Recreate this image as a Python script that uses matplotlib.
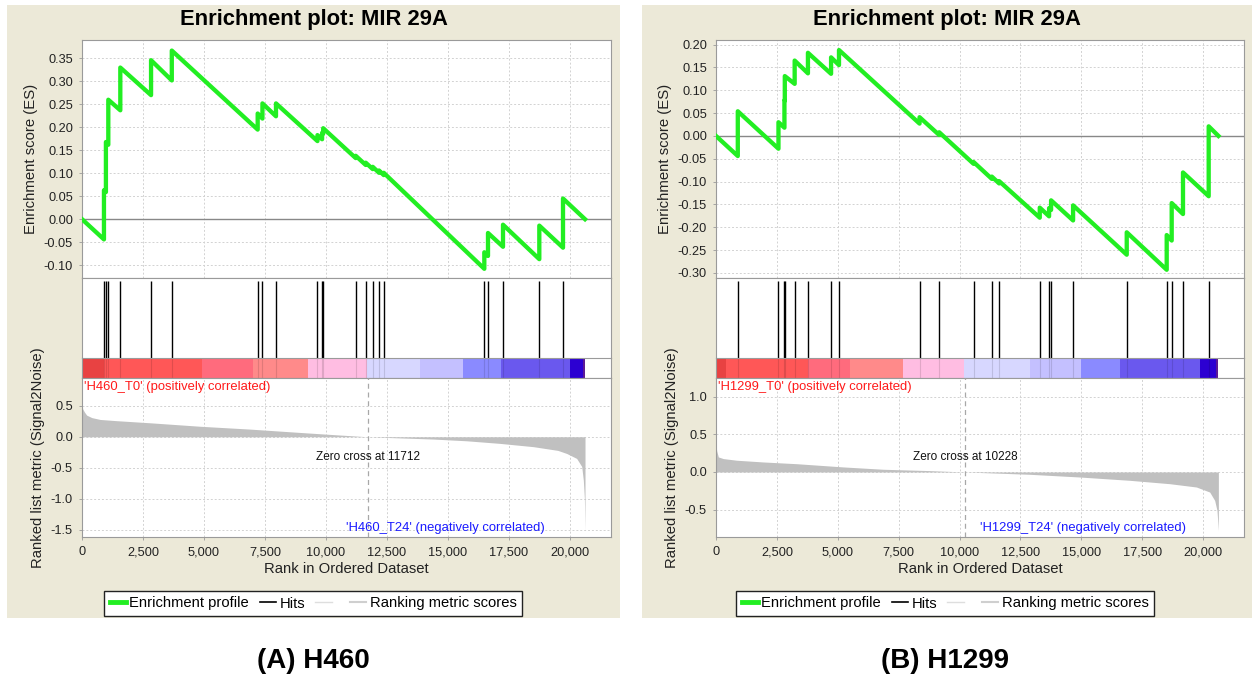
import matplotlib.pyplot as plt
import matplotlib.patches as mpatches
from matplotlib.lines import Line2D
from matplotlib.ticker import FuncFormatter, MultipleLocator

plt.rcParams["font.family"] = ["Liberation Sans", "DejaVu Sans"]
plt.rcParams["axes.unicode_minus"] = False

# ── Data ──────────────────────────────────────────────────────────────────────
TITLE = "Enrichment plot: MIR 29A"

# H460
es_rank_460 = [0, 900, 900, 980, 980, 1078, 1078, 1570, 1570, 2830, 2830, 3680, 3680,
               7200, 7200, 7395, 7395, 7950, 7950, 9650, 9650, 9840, 9840, 9885, 9885,
               11217, 11217, 11627, 11627, 11914, 11914, 12172, 12172, 12365, 12365,
               16488, 16488, 16639, 16639, 17254, 17254, 18742, 18742, 19713, 19713, 20615]
es_value_460 = [0.0, -0.044, 0.063, 0.059, 0.168, 0.162, 0.260, 0.237, 0.330, 0.270, 0.346,
                0.302, 0.367, 0.195, 0.230, 0.219, 0.252, 0.224, 0.252, 0.170, 0.183,
                0.174, 0.188, 0.186, 0.198, 0.133, 0.138, 0.118, 0.123, 0.109, 0.114,
                0.101, 0.106, 0.096, 0.101, -0.108, -0.072, -0.080, -0.030, -0.060,
                -0.012, -0.087, -0.014, -0.062, 0.045, 0.0]
hits_460 = [900, 980, 1078, 1570, 2830, 3680, 7200, 7395, 7950, 9650, 9840, 9885, 11217,
            11627, 11914, 12172, 12365, 16488, 16639, 17254, 18742, 19713]
metric_rank_460 = [0, 30, 100, 190, 400, 740, 1420, 2790, 4836, 6885, 8934, 10300, 11712,
                   14400, 15766, 17130, 18500, 19500, 19865, 20273, 20480, 20546, 20590, 20615]
metric_value_460 = [0.51, 0.45, 0.40, 0.35, 0.31, 0.28, 0.26, 0.226, 0.17, 0.124, 0.07,
                    0.035, 0.0, -0.037, -0.065, -0.107, -0.16, -0.22, -0.27, -0.35, -0.48,
                    -0.70, -1.0, -1.52]
bar_edges_460 = [0, 900, 4905, 7020, 9250, 11670, 13850, 15630, 17170, 20000, 20545, 20615]
zero_cross_460 = 11712

# H1299
es_rank_1299 = [0, 895, 895, 2565, 2565, 2810, 2810, 2825, 2825, 3230, 3230, 3775, 3775,
                4725, 4725, 5050, 5050, 8358, 8358, 9165, 9165, 10574, 10574, 11325, 11325,
                11627, 11627, 13294, 13294, 13677, 13677, 13759, 13759, 14662, 14662,
                16865, 16865, 18506, 18506, 18711, 18711, 19175, 19175, 20230, 20230, 20630]
es_value_1299 = [0.0, -0.044, 0.054, -0.028, 0.030, 0.018, 0.078, 0.077, 0.131, 0.114,
                 0.165, 0.137, 0.182, 0.136, 0.172, 0.155, 0.188, 0.027, 0.041, 0.002,
                 0.008, -0.061, -0.057, -0.094, -0.089, -0.104, -0.099, -0.179, -0.157,
                 -0.176, -0.158, -0.162, -0.141, -0.185, -0.152, -0.260, -0.211, -0.293,
                 -0.217, -0.229, -0.147, -0.171, -0.080, -0.132, 0.021, 0.0]
hits_1299 = [895, 2565, 2810, 2825, 3230, 3775, 4725, 5050, 8358, 9165, 10574, 11325, 11627,
             13294, 13677, 13759, 14662, 16865, 18506, 18711, 19175, 20230]
metric_rank_1299 = [0, 30, 96, 300, 850, 1944, 3310, 5225, 6866, 8781, 10228, 12885, 14937,
                    16988, 18630, 19725, 20271, 20476, 20570, 20628]
metric_value_1299 = [0.356, 0.28, 0.2, 0.178, 0.156, 0.133, 0.11, 0.067, 0.036, 0.018, 0.0,
                     -0.031, -0.067, -0.111, -0.156, -0.2, -0.267, -0.378, -0.51, -0.78]
bar_edges_1299 = [0, 400, 3790, 5500, 7670, 10200, 12885, 15000, 16580, 19890, 20520, 20630]
zero_cross_1299 = 10228

BAR_COLORS = ["#e84242", "#ff5757", "#ff6b7d", "#ff8a8a", "#ffbde2", "#d7d7ff",
              "#c4c0ff", "#8a8aff", "#6a58ee", "#2c00d2", "#5c1a96"]

PANELS = [
    dict(es_r=es_rank_460, es_v=es_value_460, hits=hits_460,
         m_r=metric_rank_460, m_v=metric_value_460, bar=bar_edges_460,
         zc=zero_cross_460, pos="'H460_T0' (positively correlated)",
         neg="'H460_T24' (negatively correlated)", caption="(A) H460",
         es_ylim=(-0.128, 0.39), es_step=0.05, m_ylim=(-1.62, 0.95),
         m_ticks=[0.5, 0.0, -0.5, -1.0, -1.5],
         x0=82, x1=611, bg=(7, 620), legend_cx=313),
    dict(es_r=es_rank_1299, es_v=es_value_1299, hits=hits_1299,
         m_r=metric_rank_1299, m_v=metric_value_1299, bar=bar_edges_1299,
         zc=zero_cross_1299, pos="'H1299_T0' (positively correlated)",
         neg="'H1299_T24' (negatively correlated)", caption="(B) H1299",
         es_ylim=(-0.311, 0.21), es_step=0.05, m_ylim=(-0.865, 1.25),
         m_ticks=[1.0, 0.5, 0.0, -0.5],
         x0=716, x1=1244, bg=(642, 1252), legend_cx=945),
]

# ── Layout (pixels of a 1252 x 679 canvas) ────────────────────────────────────
W, H = 1252, 679
XMAX = 21680
GREEN = "#22ee22"
BEIGE = "#ece9d8"
SPINE = "#9a9a9a"
GRID = dict(color="#d2d2d2", linestyle=(0, (2, 2)), linewidth=0.7)


def box(x0, y0, x1, y1):
    return [x0 / W, 1 - y1 / H, (x1 - x0) / W, (y1 - y0) / H]


def style(ax):
    for s in ax.spines.values():
        s.set_color(SPINE)
        s.set_linewidth(0.8)
    ax.tick_params(colors="#333333", labelsize=9.2, length=2.5, width=0.6,
                   pad=4, labelcolor="#222222")
    ax.tick_params(axis="both", color=SPINE)


comma = FuncFormatter(lambda v, p: f"{int(v):,}")

fig = plt.figure(figsize=(W / 100, H / 100), dpi=100)
fig.patch.set_facecolor("white")

for p in PANELS:
    bx0, bx1 = p["bg"]
    fig.patches.append(mpatches.Rectangle((bx0 / W, 1 - 618 / H), (bx1 - bx0) / W,
                                          613 / H, transform=fig.transFigure,
                                          facecolor=BEIGE, edgecolor="none", zorder=-5))
    cx = (bx0 + bx1) / 2 / W
    fig.text(cx, 1 - 19 / H, TITLE, ha="center", va="center", fontsize=15.8,
             fontweight="bold")
    fig.text(p["legend_cx"] / W, 1 - 661 / H, p["caption"], ha="center", va="center",
             fontsize=20, fontweight="bold")

    x0, x1 = p["x0"], p["x1"]

    # Enrichment score
    ax = fig.add_axes(box(x0, 40, x1, 278))
    style(ax)
    ax.set_axisbelow(True)
    ax.grid(True, **GRID)
    ax.axhline(0, color="#888888", lw=1.0, zorder=1)
    ax.plot(p["es_r"], p["es_v"], color=GREEN, lw=3.1, solid_joinstyle="round", zorder=3)
    ax.set_xlim(0, XMAX)
    ax.set_ylim(*p["es_ylim"])
    ax.xaxis.set_major_locator(MultipleLocator(2500))
    ax.yaxis.set_major_locator(MultipleLocator(p["es_step"]))
    ax.yaxis.set_major_formatter(FuncFormatter(lambda v, q: f"{v:.2f}"))
    ax.tick_params(axis="x", labelbottom=False, length=0)
    ax.set_ylabel("Enrichment score (ES)", fontsize=10.7, color="#222222")

    # Hits
    axh = fig.add_axes(box(x0, 278, x1, 358))
    style(axh)
    axh.vlines(p["hits"], 0, 0.96, color="black", lw=1.0)
    axh.set_xlim(0, XMAX)
    axh.set_ylim(0, 1)
    axh.set_xticks([])
    axh.set_yticks([])
    axh.spines["bottom"].set_visible(False)

    # Colour bar of the ranked list
    axb = fig.add_axes(box(x0, 358, x1, 378))
    style(axb)
    edges = p["bar"]
    for i, c in enumerate(BAR_COLORS):
        axb.axvspan(edges[i], edges[i + 1], color=c, lw=0)
    axb.vlines(p["hits"], 0, 1, color="black", lw=0.8, alpha=0.12)
    axb.set_xlim(0, XMAX)
    axb.set_ylim(0, 1)
    axb.set_xticks([])
    axb.set_yticks([])

    # Ranked list metric
    axm = fig.add_axes(box(x0, 378, x1, 537))
    style(axm)
    axm.set_axisbelow(True)
    axm.grid(True, **GRID)
    axm.fill_between(p["m_r"], 0, p["m_v"], color="#c0c0c0", lw=0, zorder=2)
    axm.axvline(p["zc"], color="#a8a8a8", lw=0.9, ls=(0, (4, 3)), zorder=3)
    axm.set_xlim(0, XMAX)
    axm.set_ylim(*p["m_ylim"])
    axm.set_yticks(p["m_ticks"])
    axm.yaxis.set_major_formatter(FuncFormatter(lambda v, q: f"{v:.1f}"))
    axm.xaxis.set_major_locator(MultipleLocator(2500))
    axm.xaxis.set_major_formatter(comma)
    axm.set_xlabel("Rank in Ordered Dataset", fontsize=10.7, color="#222222", labelpad=3)
    axm.set_ylabel("Ranked list metric (Signal2Noise)", fontsize=10.7, color="#222222")
    axm.text(0.004, 0.945, p["pos"], transform=axm.transAxes, ha="left", va="center",
             color="#ff1a1a", fontsize=9.4)
    axm.text(0.5, 0.058, p["neg"], transform=axm.transAxes, ha="left", va="center",
             color="#1a1aff", fontsize=9.4)
    axm.text(p["zc"], 0.5, f"Zero cross at {p['zc']}", transform=axm.get_xaxis_transform(),
             ha="center", va="center", fontsize=8.5, color="#111111")

    handles = [
        Line2D([], [], color=GREEN, lw=3.5, label="Enrichment profile"),
        Line2D([], [], color="black", lw=1.2, label="Hits"),
        Line2D([], [], color="#dedede", lw=1.0, label=" "),
        Line2D([], [], color="#cfcfcf", lw=1.5, label="Ranking metric scores"),
    ]
    leg = fig.legend(handles=handles, loc="center",
                     bbox_to_anchor=(p["legend_cx"] / W, 1 - 603.5 / H), ncol=4,
                     fontsize=10.6, frameon=True, fancybox=False, framealpha=1,
                     edgecolor="#222222", handlelength=1.1, handletextpad=0.25,
                     columnspacing=0.7, borderpad=0.35, borderaxespad=0)
    leg.get_frame().set_linewidth(1.0)

fig.savefig("out.png", dpi=100, facecolor="white")
